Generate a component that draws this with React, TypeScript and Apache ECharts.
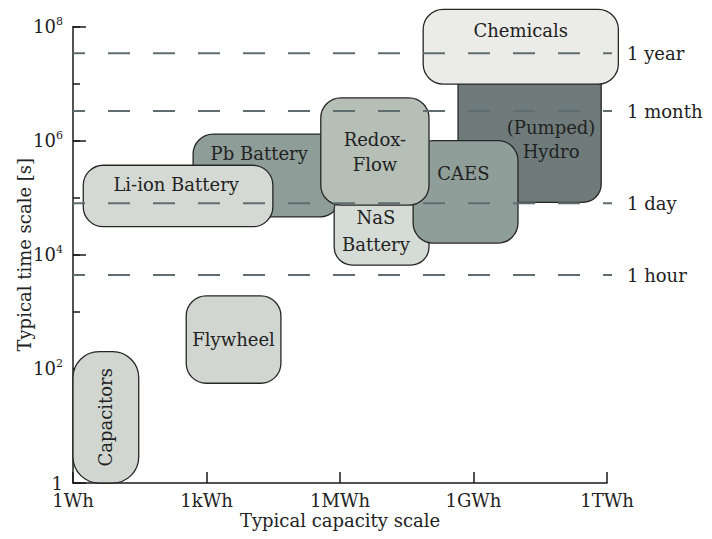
import React, { useEffect, useRef } from 'react';
import * as echarts from 'echarts';

// ---- data ----
const storageNames = ['Pb Battery', 'Li-ion Battery', 'NaS\nBattery', '(Pumped)\nHydro', 'CAES', 'Redox-\nFlow', 'Chemicals', 'Flywheel', 'Capacitors'];
const capacityMinWh = [5e2, 1.7, 7.4e5, 4.5e8, 4.4e7, 3.7e5, 7.4e7, 3.5e2, 1];
const capacityMaxWh = [1e6, 3.1e4, 1e8, 7.4e11, 1e10, 1e8, 1.8e12, 4.7e4, 30];
const timeMinS = [4.6e4, 3.1e4, 6.6e3, 8.3e4, 1.6e4, 7.4e4, 9.8e6, 56, 1];
const timeMaxS = [1.3e6, 3.7e5, 1.26e5, 2e7, 1.0e6, 5.6e6, 2.0e8, 1.9e3, 200];

const refLineNames = ['1 year', '1 month', '1 day', '1 hour'];
const refLineSeconds = [3.4e7, 3.3e6, 8e4, 4.4e3];

const xTickLabels = ['1Wh', '1kWh', '1MWh', '1GWh', '1TWh'];

// ---- styles ----
const FONT = '"DejaVu Serif", "Liberation Serif", serif';
const boxStyles = [
  { fill: '#8f9d98', fx: 0.45, fy: 0.23, r: 20, lh: 25, rot: 0 },
  { fill: '#d4dad3', fx: 0.49, fy: 0.32, r: 20, lh: 25, rot: 0 },
  { fill: '#d5dbd5', fx: 0.44, fy: 0.53, r: 18, lh: 27, rot: 0 },
  { fill: '#6e7b7a', fx: 0.65, fy: 0.54, r: 18, lh: 24, rot: 0 },
  { fill: '#909e99', fx: 0.48, fy: 0.32, r: 20, lh: 25, rot: 0 },
  { fill: '#b5bfb6', fx: 0.5, fy: 0.5, r: 20, lh: 25, rot: 0 },
  { fill: '#ebebe7', fx: 0.5, fy: 0.28, r: 20, lh: 25, rot: 0 },
  { fill: '#d1d7d0', fx: 0.5, fy: 0.5, r: 20, lh: 25, rot: 0 },
  { fill: '#d1d7d0', fx: 0.5, fy: 0.5, r: 26, lh: 25, rot: Math.PI / 2 },
];

const lg = (v: number) => Math.log10(v);

export default function App() {
  const ref = useRef<HTMLDivElement>(null);
  useEffect(() => {
    document.body.style.margin = '0';
    if (!ref.current) return;
    const chart = echarts.init(ref.current, undefined, { renderer: 'svg' });

    const boxData = storageNames.map((_, i) => [
      lg(capacityMinWh[i]), lg(capacityMaxWh[i]), lg(timeMinS[i]), lg(timeMaxS[i]), i,
    ]);
    const lineData = refLineNames.map((_, i) => [0, lg(refLineSeconds[i]), i]);

    const axisColor = '#1a1a1a';

    const option: any = {
      animation: false,
      backgroundColor: '#ffffff',
      grid: { left: 73, right: 105, top: 26.5, bottom: 56, containLabel: false, outerBoundsMode: 'none' },
      xAxis: {
        type: 'value',
        min: 0,
        max: 12,
        interval: 3,
        name: 'Typical capacity scale',
        nameLocation: 'middle',
        nameGap: 28,
        nameMoveOverlap: false,
        nameTextStyle: { fontFamily: FONT, fontSize: 18, color: '#222' },
        axisLine: { show: true, lineStyle: { color: axisColor, width: 1.5 } },
        axisTick: { show: true, inside: true, length: 11, lineStyle: { color: axisColor, width: 1.5 } },
        axisLabel: {
          margin: 8,
          fontFamily: FONT,
          fontSize: 18,
          lineHeight: 18,
          color: '#222',
          formatter: (v: number) => xTickLabels[Math.round(v / 3)] ?? '',
        },
        splitLine: { show: false },
      },
      yAxis: [
        {
          type: 'value',
          min: 0,
          max: 8,
          interval: 2,
          position: 'left',
          name: 'Typical time scale [s]',
          nameLocation: 'middle',
          nameGap: 40,
          nameMoveOverlap: false,
          nameTextStyle: { fontFamily: FONT, fontSize: 18, color: '#222' },
          axisLine: { show: true, lineStyle: { color: axisColor, width: 1.5 } },
          axisTick: { show: true, inside: true, length: 13, lineStyle: { color: axisColor, width: 1.5 } },
          axisLabel: {
            margin: 10,
            formatter: (v: number) => (v === 0 ? '{one|1}' : `{b|10}{sup|${v}}`),
            rich: {
              one: { fontFamily: FONT, fontSize: 18, color: '#222', lineHeight: 12 },
              b: { fontFamily: FONT, fontSize: 18, color: '#222', lineHeight: 22 },
              sup: { fontFamily: FONT, fontSize: 11, color: '#222', lineHeight: 14, verticalAlign: 'top' },
            },
          },
          splitLine: { show: false },
        },
        {
          type: 'value',
          min: 0,
          max: 8,
          interval: 1,
          position: 'left',
          offset: 0,
          axisLine: { show: false },
          axisTick: { show: true, inside: true, length: 7, lineStyle: { color: axisColor, width: 1.5 } },
          axisLabel: { show: false },
          splitLine: { show: false },
        },
      ],
      series: [
        {
          type: 'custom',
          z: 2,
          clip: false,
          xAxisIndex: 0,
          yAxisIndex: 0,
          encode: { x: [0, 1], y: [2, 3] },
          data: boxData,
          renderItem: (params: any, api: any) => {
            const idx = api.value(4) as number;
            const st = boxStyles[idx];
            const p0 = api.coord([api.value(0), api.value(3)]);
            const p1 = api.coord([api.value(1), api.value(2)]);
            const w = p1[0] - p0[0];
            const h = p1[1] - p0[1];
            return {
              type: 'group',
              children: [
                {
                  type: 'rect',
                  shape: { x: p0[0], y: p0[1], width: w, height: h, r: st.r },
                  style: { fill: st.fill, stroke: '#262626', lineWidth: 1.3 },
                },
                {
                  type: 'text',
                  x: p0[0] + w * st.fx,
                  y: p0[1] + h * st.fy,
                  rotation: st.rot,
                  style: {
                    text: storageNames[idx],
                    fill: '#222',
                    fontFamily: FONT,
                    fontSize: 18,
                    lineHeight: st.lh,
                    align: 'center',
                    verticalAlign: 'middle',
                    textAlign: 'center',
                    textVerticalAlign: 'middle',
                  },
                },
              ],
            };
          },
        },
        {
          type: 'custom',
          z: 3,
          clip: false,
          xAxisIndex: 0,
          yAxisIndex: 0,
          encode: { x: 0, y: 1 },
          data: lineData,
          renderItem: (params: any, api: any) => {
            const idx = api.value(2) as number;
            const a = api.coord([api.value(0), api.value(1)]);
            const b = api.coord([12, api.value(1)]);
            return {
              type: 'group',
              children: [
                {
                  type: 'line',
                  shape: { x1: a[0], y1: a[1], x2: b[0] + 5, y2: b[1] },
                  style: { stroke: '#5f6d70', lineWidth: 2, lineDash: [22, 23], lineDashOffset: 10 },
                },
                {
                  type: 'text',
                  x: b[0] + 20,
                  y: b[1],
                  style: {
                    text: refLineNames[idx],
                    fill: '#222',
                    fontFamily: FONT,
                    fontSize: 18,
                    align: 'left',
                    verticalAlign: 'middle',
                    textAlign: 'left',
                    textVerticalAlign: 'middle',
                  },
                },
              ],
            };
          },
        },
      ],
    };

    chart.setOption(option);
    return () => chart.dispose();
  }, []);

  return <div ref={ref} style={{ width: 712, height: 539 }} />;
}
